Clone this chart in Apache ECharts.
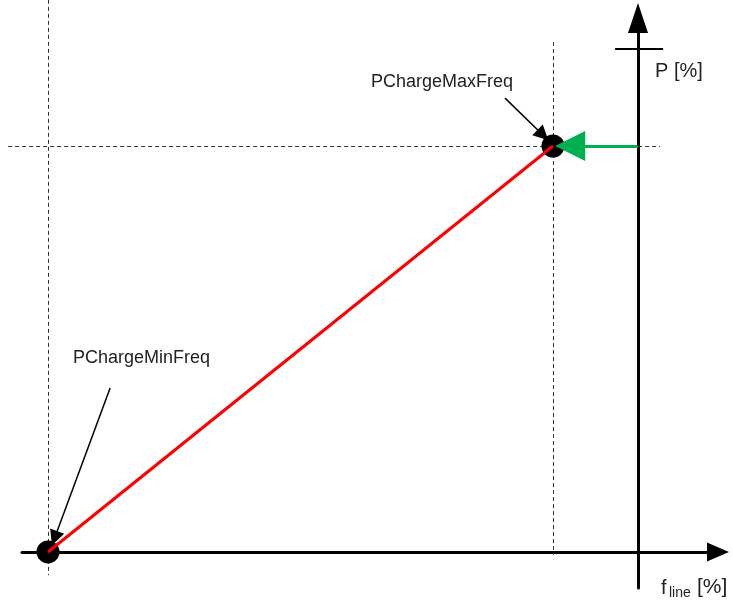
<!DOCTYPE html>
<html>
<head>
<meta charset="utf-8">
<script src="https://cdn.jsdelivr.net/npm/echarts@6/dist/echarts.min.js"></script>
<style>
  html, body { margin: 0; padding: 0; background: #fff; }
  #chart { width: 733px; height: 604px; }
</style>
</head>
<body>
<div id="chart"></div>
<script>
// charge curve points: f_line [%] -> P [%]
var pointNames = ['PChargeMinFreq', 'PChargeMaxFreq'];
var freqValues = [0, 100];
var powerValues = [0, 100];

// where the P axis crosses (in f_line units) and the P-axis marker
var pAxisAt = 116.8;
var pMarker = 123.9;

var chart = echarts.init(document.getElementById('chart'));

var curve = freqValues.map(function (f, i) { return [f, powerValues[i]]; });
var fMin = freqValues[0], fMax = freqValues[1];
var pMin = powerValues[0], pMax = powerValues[1];

// dashed helper lines through the two points
var guides = [
  { coords: [[fMin, 136], [fMin, -5.7]] },
  { coords: [[fMax, 125.6], [fMax, -0.7]] },
  { coords: [[-7.9, pMax], [121.2, pMax]] }
];

var font = 'Liberation Sans';
var txt = { fontFamily: font, fontSize: 18, fill: '#222' };

var option = {
  animation: false,
  grid: { left: 22, right: 15, top: 18, bottom: 16 },
  xAxis: {
    type: 'value',
    min: -5.15,
    max: 132.67,
    splitLine: { show: false },
    axisTick: { show: false },
    axisLabel: { show: false },
    axisLine: {
      show: true,
      onZero: true,
      symbol: ['none', 'triangle'],
      symbolSize: [19, 22],
      lineStyle: { color: '#000', width: 3 }
    }
  },
  yAxis: {
    type: 'value',
    min: -8.87,
    max: 131.53,
    position: 'right',
    offset: -80,
    splitLine: { show: false },
    axisTick: { show: false },
    axisLabel: { show: false },
    axisLine: {
      show: true,
      onZero: false,
      symbol: ['none', 'triangle'],
      symbolSize: [20, 30],
      lineStyle: { color: '#000', width: 3 }
    }
  },
  series: [
    {
      type: 'lines',
      coordinateSystem: 'cartesian2d',
      clip: false,
      silent: true,
      lineStyle: { color: '#333', width: 1, type: [4, 3], opacity: 1 },
      data: guides
    },
    {
      // marker on the P axis
      type: 'lines',
      coordinateSystem: 'cartesian2d',
      clip: false,
      lineStyle: { color: '#000', width: 2, opacity: 1 },
      data: [{ coords: [[112.3, pMarker], [121.8, pMarker]] }]
    },
    {
      type: 'scatter',
      symbolSize: 23,
      itemStyle: { color: '#000', opacity: 1 },
      z: 3,
      data: curve
    },
    {
      type: 'line',
      data: curve,
      showSymbol: false,
      lineStyle: { color: '#ff0000', width: 3 },
      z: 5
    },
    {
      // green arrow from P axis to the max point
      type: 'lines',
      coordinateSystem: 'cartesian2d',
      clip: false,
      symbol: ['none', 'triangle'],
      symbolSize: [19, 30],
      lineStyle: { color: '#00b050', width: 3, opacity: 1 },
      z: 6,
      data: [{ coords: [[pAxisAt, pMax], [103.4, pMax]] }]
    },
    {
      // label pointers
      type: 'lines',
      coordinateSystem: 'cartesian2d',
      clip: false,
      symbol: ['none', 'triangle'],
      symbolSize: [12, 15],
      lineStyle: { color: '#000', width: 1.5, opacity: 1 },
      itemStyle: { color: '#000' },
      z: 6,
      data: [
        { coords: [[90.5, 111.8], [fMax - 2, pMax + 2.7]] },
        { coords: [[12.3, 40.4], [fMin + 1.3, pMin + 3.4]] }
      ]
    }
  ],
  graphic: [
    { type: 'text', left: 371, top: 73, style: Object.assign({ text: pointNames[1] }, txt) },
    { type: 'text', left: 73, top: 349, style: Object.assign({ text: pointNames[0] }, txt) },
    { type: 'text', left: 655, top: 61, style: { text: 'P [%]', fontFamily: font, fontSize: 20, fill: '#222' } },
    { type: 'text', left: 661, top: 578, style: { text: 'f', fontFamily: font, fontSize: 20, fill: '#222' } },
    { type: 'text', left: 669, top: 586, style: { text: 'line', fontFamily: font, fontSize: 14, fill: '#222' } },
    { type: 'text', left: 697, top: 577, style: { text: '[%]', fontFamily: font, fontSize: 21, fill: '#222' } }
  ]
};

chart.setOption(option);
</script>
</body>
</html>
